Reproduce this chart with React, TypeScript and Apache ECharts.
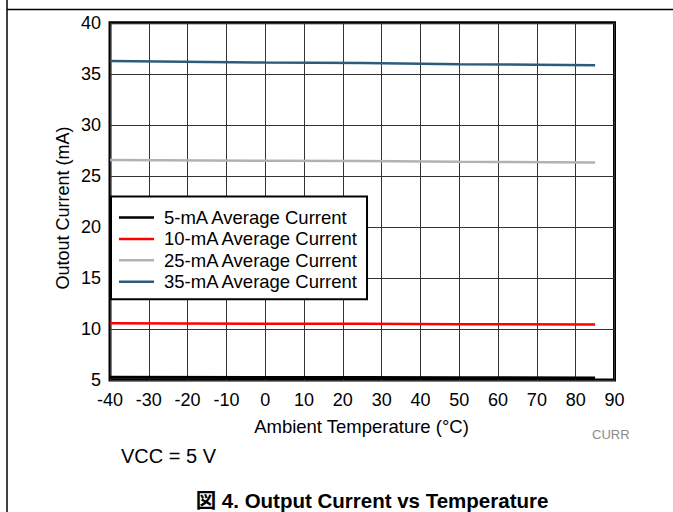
import React, { useEffect, useRef } from "react";
import * as echarts from "echarts";

const temps = [-40, 0, 25, 50, 85];
const cur5 = [5.28, 5.25, 5.24, 5.22, 5.2];
const cur10 = [10.55, 10.52, 10.5, 10.47, 10.43];
const cur25 = [26.55, 26.48, 26.45, 26.38, 26.3];
const cur35 = [36.25, 36.1, 36.05, 35.95, 35.85];
const seriesNames = [
  "5-mA Average Current",
  "10-mA Average Current",
  "25-mA Average Current",
  "35-mA Average Current",
];
const seriesColors = ["#000000", "#ff0000", "#b2b2b2", "#2b5d7a"];
const FONT = "'Liberation Sans', Arial, sans-serif";

export default function App() {
  const ref = useRef<HTMLDivElement>(null);
  useEffect(() => {
    if (!ref.current) return;
    const chart = echarts.init(ref.current, null, { renderer: "svg" });
    const all = [cur5, cur10, cur25, cur35];
    const series = all.map((vals, i) => ({
      name: seriesNames[i],
      type: "line",
      data: temps.map((t, j) => [t, vals[j]]),
      showSymbol: false,
      symbol: "none",
      lineStyle: { color: seriesColors[i], width: i === 0 ? 3 : 2.5 },
      itemStyle: { color: seriesColors[i] },
      z: 3,
    }));
    chart.setOption({
      animation: false,
      backgroundColor: "#ffffff",
      textStyle: { fontFamily: FONT },
      grid: {
        left: 110,
        right: 58.5,
        top: 22.8,
        bottom: 132,
        show: true,
        borderColor: "#000",
        borderWidth: 3,
        backgroundColor: "transparent",
      },
      xAxis: {
        type: "value",
        min: -40,
        max: 90,
        interval: 10,
        axisLine: { show: false },
        axisTick: { show: false },
        axisLabel: { color: "#000", fontSize: 18, fontFamily: FONT, margin: 11 },
        splitLine: { show: true, lineStyle: { color: "#333", width: 1 } },
      },
      yAxis: {
        type: "value",
        min: 5,
        max: 40,
        interval: 5,
        axisLine: { show: false },
        axisTick: { show: false },
        axisLabel: { color: "#000", fontSize: 18, fontFamily: FONT, margin: 9 },
        splitLine: { show: true, lineStyle: { color: "#333", width: 1 } },
      },
      legend: {
        left: 111,
        top: 196.5,
        orient: "vertical",
        selectedMode: false,
        data: seriesNames,
        icon: "rect",
        itemWidth: 35,
        itemHeight: 2.5,
        itemGap: 2.4,
        padding: [11.5, 8, 8, 8],
        backgroundColor: "#fff",
        borderColor: "#000",
        borderWidth: 2,
        borderRadius: 0,
        textStyle: {
          color: "#000",
          fontSize: 18.5,
          fontFamily: FONT,
          padding: [0, 0, 0, 5],
        },
        z: 5,
      },
      graphic: [
        {
          type: "line",
          shape: { x1: 7, y1: 0, x2: 7, y2: 512 },
          style: { stroke: "#000", lineWidth: 1.5 },
        },
        {
          type: "line",
          shape: { x1: 7, y1: 9.5, x2: 673, y2: 9.5 },
          style: { stroke: "#000", lineWidth: 1.5 },
        },
        {
          type: "text",
          x: 63,
          y: 208,
          rotation: Math.PI / 2,
          style: {
            text: "Outout Current (mA)",
            fontSize: 18,
            fontFamily: FONT,
            fill: "#000",
            textAlign: "center",
            textVerticalAlign: "middle",
          },
        },
        {
          type: "text",
          x: 361.5,
          y: 426,
          style: {
            text: "Ambient Temperature (°C)",
            fontSize: 18.5,
            fontFamily: FONT,
            fill: "#000",
            textAlign: "center",
            textVerticalAlign: "middle",
          },
        },
        {
          type: "text",
          x: 592,
          y: 434,
          style: {
            text: "CURR",
            fontSize: 13,
            fontFamily: FONT,
            fill: "#8a8a8a",
            textAlign: "left",
            textVerticalAlign: "middle",
          },
        },
        {
          type: "text",
          x: 121,
          y: 456,
          style: {
            text: "VCC = 5 V",
            fontSize: 20,
            fontFamily: FONT,
            fill: "#000",
            textAlign: "left",
            textVerticalAlign: "middle",
          },
        },
        {
          type: "text",
          x: 372,
          y: 500,
          style: {
            text: "図 4. Output Current vs Temperature",
            fontSize: 20.5,
            fontWeight: "bold",
            fontFamily: "'Liberation Sans', 'Noto Sans CJK JP', Arial, sans-serif",
            fill: "#000",
            textAlign: "center",
            textVerticalAlign: "middle",
          },
        },
      ],
      series,
    });
    return () => chart.dispose();
  }, []);
  return (
    <div
      ref={ref}
      style={{ position: "absolute", left: 0, top: 0, width: 673, height: 512 }}
    />
  );
}
